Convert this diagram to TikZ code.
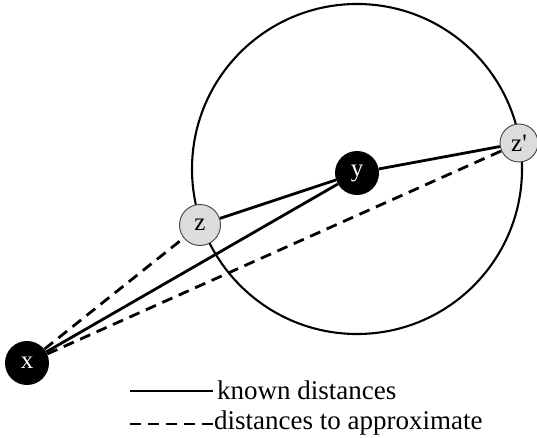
\documentclass[tikz,border=0pt]{standalone}
\usepackage{fontspec}
\setmainfont{Liberation Serif}
\usepackage{tikz}
\usetikzlibrary{positioning}
\definecolor{Peer}{HTML}{DCDCDC}

\begin{document}
\begin{tikzpicture}[x=1pt,y=-1pt,
    known/.style={line width=2.8pt},
    approx/.style={line width=2.8pt,dash pattern=on 11pt off 7pt},
    host/.style={circle,fill=black,text=white,minimum size=44pt,inner sep=0pt,font=\fontsize{25}{27}\selectfont},
    peer/.style={circle,fill=Peer,draw=black!75,line width=0.9pt,minimum size=41pt,inner sep=0pt,font=\fontsize{25}{27}\selectfont}]
  \useasboundingbox (0,0) rectangle (537,438);
  % ring of equal distance around y
  \draw[line width=2.1pt] (357,169) circle (165);
  \node[host] (x) at (27,363) {x};
  \node[host] (y) at (357,173) {y};
  \node[peer] (z) at (200,225) {z};
  \node[peer,minimum size=38pt] (zp) at (519,143) {z\textquotesingle};
  % edges
  \draw[known] (z) -- (y);
  \draw[known] (y) -- (zp);
  \draw[known] (x) -- (y);
  \draw[approx] (x) -- (z);
  \draw[approx] (x) -- (zp);
  % legend
  \coordinate (k1) at (130,391);
  \coordinate (k2) at (213,391);
  \coordinate (a1) at (130,424);
  \coordinate (a2) at (213,424);
  \draw[known] (k1) -- (k2);
  \draw[approx] (a1) -- (a2);
  \node[anchor=west,inner sep=0pt,font=\fontsize{27}{29}\selectfont] (ktext) at (217,390) {known distances};
  \node[anchor=west,inner sep=0pt,font=\fontsize{27}{29}\selectfont] (atext) at (214,423) {distances to approximate};
\end{tikzpicture}
\end{document}
